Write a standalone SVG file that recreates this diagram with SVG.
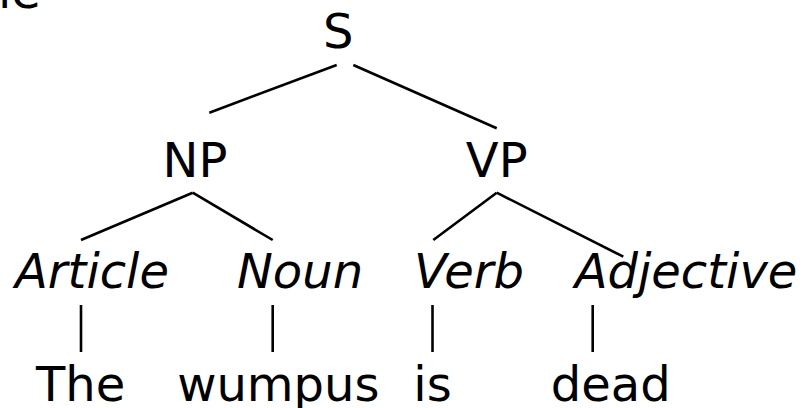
<svg xmlns="http://www.w3.org/2000/svg" width="802" height="408" viewBox="0 0 802 408">
<style>
text{font-family:"DejaVu Sans",Verdana,sans-serif;font-size:48px;fill:#000;text-anchor:middle}
.cat{font-style:italic}
.edge{stroke:#000;stroke-width:2.6;fill:none}
</style>
<rect width="802" height="408" fill="#fff"/>
<text x="-2" y="8" style="text-anchor:start">le</text>
<g id="connectors">
<line class="edge" x1="336.7" y1="65" x2="209.3" y2="112.7"/>
<line class="edge" x1="353.3" y1="65" x2="496.7" y2="128.3"/>
<line class="edge" x1="192.7" y1="192.7" x2="81" y2="240"/>
<line class="edge" x1="192.7" y1="192.7" x2="272.7" y2="240"/>
<line class="edge" x1="496.7" y1="192.7" x2="433.3" y2="240"/>
<line class="edge" x1="496.7" y1="192.7" x2="623.3" y2="256.7"/>
<line class="edge" x1="81" y1="305" x2="81" y2="352"/>
<line class="edge" x1="272.7" y1="305" x2="272.7" y2="352"/>
<line class="edge" x1="432.5" y1="305" x2="432.5" y2="352"/>
<line class="edge" x1="592.7" y1="305" x2="592.7" y2="352"/>
</g>
<g id="S"><text x="338.3" y="48">S</text></g>
<g id="NP"><text x="195" y="177">NP</text></g>
<g id="VP"><text x="496.7" y="177">VP</text></g>
<g id="Article"><text class="cat" x="92" y="288">Article</text></g>
<g id="Noun"><text class="cat" x="300" y="288">Noun</text></g>
<g id="Verb"><text class="cat" x="469" y="288">Verb</text></g>
<g id="Adjective"><text class="cat" x="686" y="288">Adjective</text></g>
<g id="The"><text x="80.7" y="401">The</text></g>
<g id="wumpus"><text x="278.3" y="401">wumpus</text></g>
<g id="is"><text x="432.5" y="401">is</text></g>
<g id="dead"><text x="610.8" y="401">dead</text></g>
</svg>
